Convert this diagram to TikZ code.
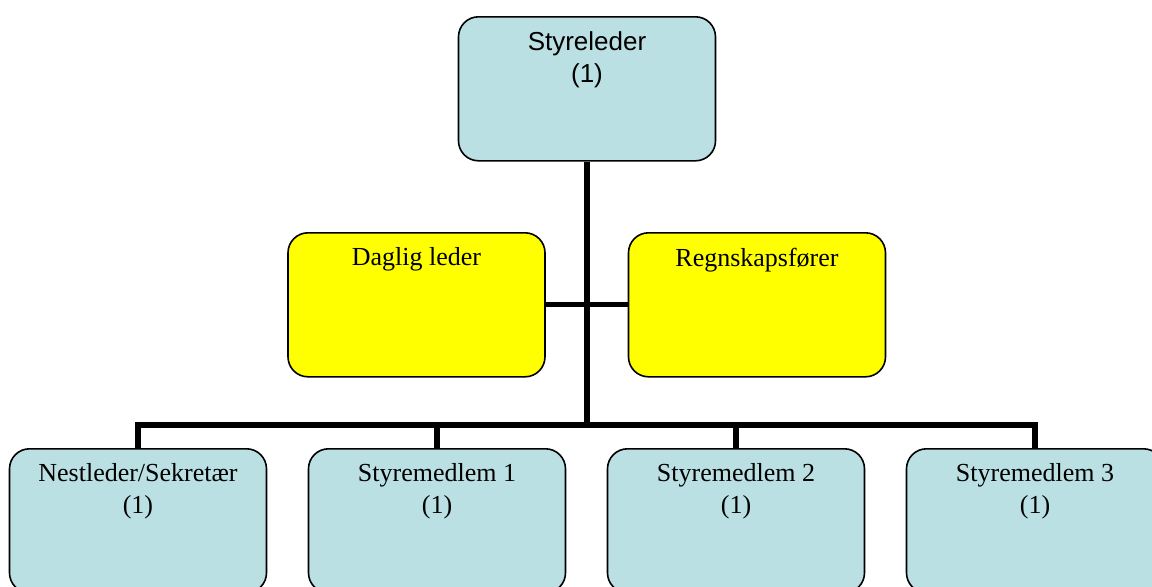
\documentclass[tikz,border=0pt]{standalone}
\usepackage{fontspec}
\setmainfont{Liberation Serif}
\newfontfamily\arialfont{Liberation Sans}
\usepackage{xcolor}
\usetikzlibrary{positioning}

\definecolor{boardblue}{RGB}{186,224,227}
\definecolor{staffyellow}{RGB}{255,255,0}

\tikzset{
	orgbox/.style={draw, rounded corners=10pt, line width=0.8pt, minimum width=128.5pt,
		minimum height=72pt, inner sep=0pt, anchor=north, font=\fontsize{13}{16}\selectfont},
	board/.style={orgbox, fill=boardblue},
	staff/.style={orgbox, fill=staffyellow},
	conn/.style={line width=2.6pt}
}
\newcommand{\boxtext}[1]{\parbox[c][72pt][t]{128pt}{\centering\vspace{7.5pt}#1}}

\begin{document}
\begin{tikzpicture}[x=0.5pt,y=-0.5pt]
	\useasboundingbox (0,0) rectangle (1152,586);
	\clip (0,0) rectangle (1152,586);
	\node[board] (leder) at (587,16) {\boxtext{\arialfont Styreleder\\(1)}};
	\node[staff] (daglig) at (416.5,232) {\boxtext{Daglig leder}};
	\node[staff] (regn) at (757,232) {\boxtext{Regnskapsfører}};
	\node[board] (nest) at (138,448) {\boxtext{Nestleder/Sekretær\\(1)}};
	\node[board] (s1) at (437,448) {\boxtext{Styremedlem 1\\(1)}};
	\node[board] (s2) at (736,448) {\boxtext{Styremedlem 2\\(1)}};
	\node[board] (s3) at (1035,448) {\boxtext{Styremedlem 3\\(1)}};
	\coordinate (bus) at (leder.south |- 0,425);

	\draw[conn] (leder.south) -- (bus);
	\draw[conn] (daglig.east) -- (regn.west);
	\draw[conn] (nest.north) |- (bus) -| (s3.north);
	\draw[conn] (s1.north) -- (s1.north |- bus);
	\draw[conn] (s2.north) -- (s2.north |- bus);
\end{tikzpicture}
\end{document}
